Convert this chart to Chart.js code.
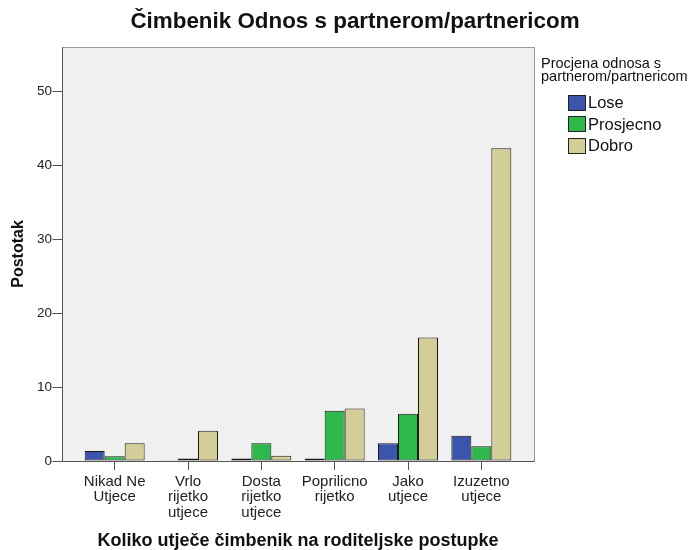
<!DOCTYPE html>
<html>
<head>
<meta charset="utf-8">
<script src="https://cdn.jsdelivr.net/npm/chart.js@4"></script>
<style>
    body { margin: 0; background: #fff; }
    #wrap { position: relative; width: 693px; height: 550px; }
    #legend { position: absolute; left: 541px; top: 57px; font-family: "Liberation Sans", Arial, sans-serif; color: #111; }
    #legend .ttl { font-size: 14.5px; line-height: 13px; }
    #legend .items { margin-top: 9px; }
    #legend .item { display: flex; align-items: center; height: 21.5px; margin-left: 27px; font-size: 16.5px; }
    #legend .box { width: 16px; height: 14px; border: 1px solid #222; margin-right: 2px; }
</style>
</head>
<body>
<div id="wrap">
    <canvas id="chart" width="693" height="550"></canvas>
    <div id="legend"></div>
</div>
<script>
const categories = [
    ['Nikad Ne', 'Utjece'],
    ['Vrlo', 'rijetko', 'utjece'],
    ['Dosta', 'rijetko', 'utjece'],
    ['Poprilicno', 'rijetko'],
    ['Jako', 'utjece'],
    ['Izuzetno', 'utjece']
];
const lose = [1.35, 0.05, 0.35, 0.35, 2.4, 3.4];
const prosjecno = [0.65, 0.35, 2.4, 6.8, 6.4, 2.0];
const dobro = [2.4, 4.1, 0.7, 7.1, 16.7, 42.3];
const yMax = 56;
const yStep = 10;

Chart.defaults.font.family = '"Liberation Sans", Arial, sans-serif';
Chart.defaults.color = '#111';

// grey plot panel, wider than the category band, plus y tick marks
const framePlugin = {
    id: 'frame',
    beforeDraw(chart) {
        const { ctx, chartArea: a } = chart;
        ctx.save();
        ctx.fillStyle = '#f0f0f0';
        ctx.fillRect(Math.round(a.left) - 16, Math.round(a.top), Math.round(a.right - a.left) + 32, Math.round(a.bottom - a.top));
        ctx.restore();
    },
    afterDatasetsDraw(chart) {
        const { ctx, chartArea: a, scales } = chart;
        const l = Math.round(a.left) - 16 + 0.5, r = Math.round(a.right) + 16 + 0.5;
        const t = Math.round(a.top) + 0.5, b = Math.round(a.bottom) + 0.5;
        ctx.save();
        ctx.lineWidth = 1;
        ctx.strokeStyle = '#999';
        ctx.strokeRect(l, t, r - l, b - t);
        ctx.strokeStyle = '#555';
        ctx.beginPath();
        ctx.moveTo(l, t); ctx.lineTo(l, b); ctx.lineTo(r, b);
        scales.y.ticks.forEach(tk => {
            const y = Math.round(scales.y.getPixelForValue(tk.value)) + 0.5;
            ctx.moveTo(l - 10, y); ctx.lineTo(l, y);
        });
        ctx.stroke();
        ctx.restore();
    }
};

const chart = new Chart(document.getElementById('chart'), {
    type: 'bar',
    data: {
        labels: categories,
        datasets: [
            { label: 'Lose', data: lose, backgroundColor: '#3a55ab' },
            { label: 'Prosjecno', data: prosjecno, backgroundColor: '#2cb84a' },
            { label: 'Dobro', data: dobro, backgroundColor: '#d3ce98' }
        ]
    },
    options: {
        responsive: false,
        animation: false,
        layout: { padding: { left: 17, right: 0, top: 0, bottom: 0 } },
        datasets: {
            bar: { categoryPercentage: 0.818, barPercentage: 1, borderWidth: 1, borderColor: '#1a1a1a', borderSkipped: false }
        },
        plugins: {
            legend: { display: false },
            tooltip: { enabled: false },
            title: {
                display: true,
                text: 'Čimbenik Odnos s partnerom/partnericom',
                color: '#111',
                font: { size: 22.4, weight: 'bold', lineHeight: 1.2 },
                padding: { top: 8.6, bottom: 11.5 }
            }
        },
        scales: {
            x: {
                grid: { display: true, drawOnChartArea: false, drawTicks: true, tickLength: 9, offset: false, color: '#555' },
                border: { display: false },
                ticks: { font: { size: 15, lineHeight: 1.03 }, padding: 4, maxRotation: 0, autoSkip: false, color: '#222' },
                title: {
                    display: true,
                    text: 'Koliko utječe čimbenik na roditeljske postupke',
                    color: '#111',
                    font: { size: 18, weight: 'bold', lineHeight: 1 },
                    padding: { top: 0, bottom: 0 }
                },
                afterFit(s) { s.height = 89; }
            },
            y: {
                min: 0, max: yMax,
                grid: { display: true, drawOnChartArea: false, drawTicks: false },
                border: { display: false },
                ticks: { stepSize: yStep, padding: 26, font: { size: 13.5 }, color: '#222' },
                afterBuildTicks(s) { s.ticks = s.ticks.filter(t => t.value % yStep === 0); },
                title: {
                    display: true,
                    text: 'Postotak',
                    color: '#111',
                    font: { size: 16, weight: 'bold', lineHeight: 1 },
                    padding: { top: -6.5, bottom: 0 }
                },
                afterFit(s) { s.width = 61; }
            },
            yR: {
                position: 'right',
                grid: { display: false },
                border: { display: false },
                ticks: { display: false },
                afterFit(s) { s.width = 175; }
            }
        }
    },
    plugins: [framePlugin]
});

// legend
document.getElementById('legend').innerHTML = `
    <div class="ttl">Procjena odnosa s<br>partnerom/partnericom</div>
    <div class="items">
        ${chart.data.datasets.map(d => `
            <div class="item"><span class="box" style="background:${d.backgroundColor}"></span>${d.label}</div>
        `).join('')}
    </div>
`;
</script>
</body>
</html>
